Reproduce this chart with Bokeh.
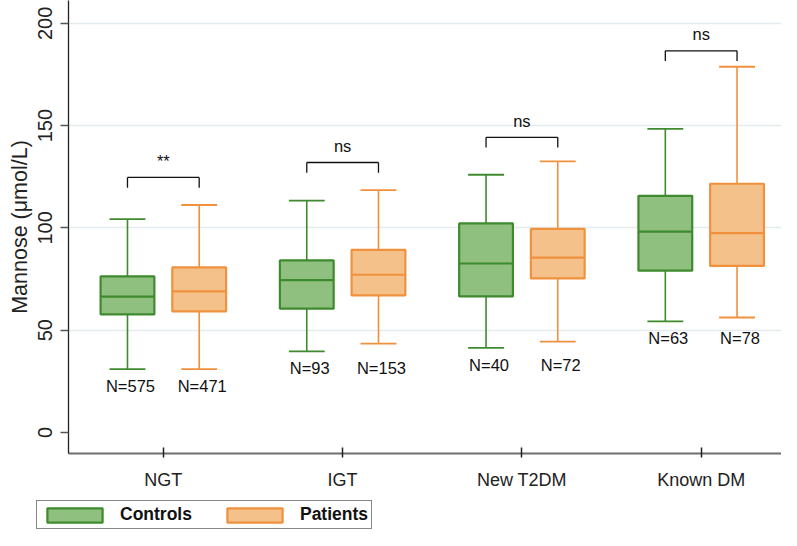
import numpy as np
from bokeh.plotting import figure
from bokeh.layouts import column
from bokeh.models import ColumnDataSource, Range1d, FixedTicker, Legend, LegendItem
from bokeh.core.properties import value
from bokeh.embed import file_html
from bokeh.resources import INLINE

# ---- data ----
categories = ["NGT", "IGT", "New T2DM", "Known DM"]
controls_low = [31.0, 39.6, 41.3, 54.3]
controls_q1 = [57.7, 60.5, 66.5, 79.1]
controls_median = [66.4, 74.5, 82.6, 98.2]
controls_q3 = [76.3, 84.1, 102.2, 115.7]
controls_high = [104.3, 113.3, 126.0, 148.4]
patients_low = [31.0, 43.4, 44.4, 56.2]
patients_q1 = [59.2, 67.0, 75.3, 81.4]
patients_median = [69.0, 77.1, 85.5, 97.5]
patients_q3 = [80.7, 89.3, 99.5, 121.6]
patients_high = [111.2, 118.5, 132.5, 178.8]
n_controls = [575, 93, 40, 63]
n_patients = [471, 153, 72, 78]
significance = ["**", "ns", "ns", "ns"]
bracket_levels = [124.7, 132.0, 144.3, 186.6]
series_names = ["Controls", "Patients"]
y_ticks = [0, 50, 100, 150, 200]
grid_ticks = [50, 100, 150, 200]

FONT = value("Liberation Sans")
GREEN_EDGE = "#3f8a2f"
GREEN_FILL = "#8fc07f"
ORANGE_EDGE = "#f0913e"
ORANGE_FILL = "#f5c18a"

xc = np.arange(1, len(categories) + 1, dtype=float)
offset = 0.2
box_half = 0.15
cap_half = 0.1

p = figure(width=781, height=500, output_backend="svg", toolbar_location=None,
           x_range=Range1d(0.471, 4.448), y_range=Range1d(-10.3, 211.2),
           min_border_left=68, min_border_right=0, min_border_top=0, min_border_bottom=47)
p.outline_line_color = None
p.background_fill_color = "white"
p.border_fill_color = "white"

# grid
p.xgrid.visible = False
p.ygrid.ticker = FixedTicker(ticks=grid_ticks)
p.ygrid.grid_line_color = "#e4ebef"
p.ygrid.grid_line_width = 1.5

# y axis
p.yaxis.ticker = FixedTicker(ticks=y_ticks)
p.yaxis.minor_tick_line_color = None
p.yaxis.major_tick_out = 8
p.yaxis.major_tick_in = 0
p.yaxis.major_tick_line_color = "#555555"
p.yaxis.major_tick_line_width = 1.5
p.yaxis.axis_line_color = "#222222"
p.yaxis.axis_line_width = 1.3
p.yaxis.major_label_orientation = "vertical"
p.yaxis.major_label_text_font = "Liberation Sans"
p.yaxis.major_label_text_font_size = "20px"
p.yaxis.major_label_text_color = "#222222"
p.yaxis.major_label_standoff = 8
p.yaxis.axis_label = "Mannose (\u03bcmol/L)"
p.yaxis.axis_label_text_font = "Liberation Sans"
p.yaxis.axis_label_text_font_size = "21.5px"
p.yaxis.axis_label_text_font_style = "normal"
p.yaxis.axis_label_text_color = "#222222"
p.yaxis.axis_label_standoff = 4

# x axis
p.xaxis.ticker = FixedTicker(ticks=list(xc))
p.xaxis.major_label_overrides = {int(x): c for x, c in zip(xc, categories)}
p.xaxis.minor_tick_line_color = None
p.xaxis.major_tick_in = 6
p.xaxis.major_tick_out = 4
p.xaxis.major_tick_line_color = "#222222"
p.xaxis.major_tick_line_width = 1.5
p.xaxis.axis_line_color = "#6e6e6e"
p.xaxis.axis_line_width = 2
p.xaxis.major_label_text_font = "Liberation Sans"
p.xaxis.major_label_text_font_size = "18px"
p.xaxis.major_label_text_color = "#222222"
p.xaxis.major_label_standoff = 12


def draw_group(xs, low, q1, med, q3, high, edge, fill):
    src = ColumnDataSource(dict(
        x=xs, low=low, q1=q1, med=med, q3=q3, high=high,
        left=xs - box_half, right=xs + box_half,
        cl=xs - cap_half, cr=xs + cap_half))
    p.segment(x0="x", y0="low", x1="x", y1="q1", source=src, line_color=edge, line_width=1.6)
    p.segment(x0="x", y0="q3", x1="x", y1="high", source=src, line_color=edge, line_width=1.6)
    p.segment(x0="cl", y0="low", x1="cr", y1="low", source=src, line_color=edge, line_width=1.8)
    p.segment(x0="cl", y0="high", x1="cr", y1="high", source=src, line_color=edge, line_width=1.8)
    p.quad(left="left", right="right", bottom="q1", top="q3", source=src,
           fill_color=fill, line_color=edge, line_width=2.2)
    p.segment(x0="left", y0="med", x1="right", y1="med", source=src, line_color=edge, line_width=2.2)


draw_group(xc - offset, controls_low, controls_q1, controls_median, controls_q3,
           controls_high, GREEN_EDGE, GREEN_FILL)
draw_group(xc + offset, patients_low, patients_q1, patients_median, patients_q3,
           patients_high, ORANGE_EDGE, ORANGE_FILL)

# significance brackets
levels = np.array(bracket_levels)
leg = 5.0
bsrc = ColumnDataSource(dict(
    x0=xc - offset, x1=xc + offset, top=levels, bot=levels - leg,
    xm=xc, ty=levels + 8.2, txt=significance))
p.segment(x0="x0", y0="top", x1="x1", y1="top", source=bsrc, line_color="#111111", line_width=1.3)
p.segment(x0="x0", y0="bot", x1="x0", y1="top", source=bsrc, line_color="#111111", line_width=1.3)
p.segment(x0="x1", y0="bot", x1="x1", y1="top", source=bsrc, line_color="#111111", line_width=1.3)
p.text(x="xm", y="ty", text="txt", source=bsrc, text_align="center", text_baseline="middle",
       text_font=FONT, text_font_size="16.5px", text_color="#111111")

# N labels
n_y = np.minimum(controls_low, patients_low) - 8.3
nsrc = ColumnDataSource(dict(
    x=np.concatenate([xc - offset, xc + offset]),
    y=np.concatenate([n_y, n_y]),
    t=["N=%d" % n for n in n_controls] + ["N=%d" % n for n in n_patients]))
p.text(x="x", y="y", text="t", source=nsrc, text_align="center", text_baseline="middle",
       x_offset=3, text_font=FONT, text_font_size="16.5px", text_color="#111111")

# ---- legend strip (separate small figure below the chart) ----
lf = figure(width=781, height=30, output_backend="svg", toolbar_location=None,
            x_range=Range1d(0, 1), y_range=Range1d(0, 1),
            x_axis_location=None, y_axis_location=None,
            min_border_left=0, min_border_right=0, min_border_top=0, min_border_bottom=0)
try:
    lf.frame_align = False
except Exception:
    pass
lf.outline_line_color = None
lf.xgrid.visible = False
lf.ygrid.visible = False
# off-screen proxies that carry the series styles for the legend
lc = lf.quad(left=[-10], right=[-9], bottom=[-10], top=[-9],
             fill_color=GREEN_FILL, line_color=GREEN_EDGE, line_width=2.2)
lp = lf.quad(left=[-10], right=[-9], bottom=[-10], top=[-9],
             fill_color=ORANGE_FILL, line_color=ORANGE_EDGE, line_width=2.2)
legend = Legend(items=[LegendItem(label=series_names[0], renderers=[lc]),
                       LegendItem(label=series_names[1], renderers=[lp])],
                location=(36, 1), orientation="horizontal")
legend.border_line_color = "#111111"
legend.border_line_width = 1
legend.background_fill_color = "white"
legend.background_fill_alpha = 1
legend.label_text_font = "Liberation Sans"
legend.label_text_font_style = "bold"
legend.label_text_font_size = "17.5px"
legend.label_text_color = "#111111"
legend.label_height = 18
legend.glyph_width = 69
legend.glyph_height = 18
legend.label_standoff = 11
legend.spacing = 28
legend.padding = 3
legend.margin = 0
lf.add_layout(legend)

layout = column(p, lf, spacing=0)
open("out.html", "w").write(file_html(layout, INLINE))
